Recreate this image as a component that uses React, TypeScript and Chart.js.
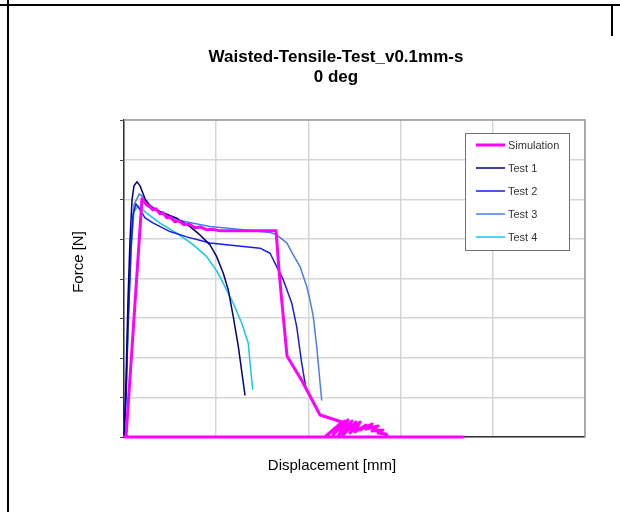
import React, { useEffect, useRef } from "react";
import { Chart, registerables } from "chart.js";

Chart.register(...registerables);

// Displacement [mm] / Force [N] pairs for each curve
const simX = [0, 0.022, 0.195, 0.246, 0.282, 0.315, 0.347, 0.39, 0.423, 0.466, 0.499, 0.553, 0.597, 0.651, 0.705, 0.77, 0.824, 0.9, 0.965, 1.041, 1.649, 1.681, 1.71, 1.768, 1.931, 2.126, 2.364, 2.191, 2.397, 2.267, 2.43, 2.321, 2.473, 2.375, 2.516, 2.451, 2.56, 2.505, 2.625, 2.56, 2.69, 2.625, 2.755, 2.69, 2.809, 2.755, 2.842, 2.863, 3.677, 0];
const simY = [0, 0, 3005, 2929, 2904, 2866, 2879, 2816, 2828, 2765, 2778, 2715, 2728, 2677, 2689, 2639, 2651, 2614, 2620, 2601, 2601, 2109, 1730, 1023, 707, 278, 189, 13, 202, 25, 215, 13, 202, 25, 189, 51, 189, 63, 152, 88, 164, 101, 139, 76, 88, 51, 38, 0, 0, 0];

const test1X = [0, 0.022, 0.043, 0.065, 0.087, 0.108, 0.141, 0.174, 0.228, 0.282, 0.39, 0.572, 0.716, 0.824, 0.933, 1.005, 1.077, 1.131, 1.185, 1.24, 1.312];
const test1Y = [0, 720, 1730, 2487, 2992, 3169, 3220, 3169, 3005, 2908, 2845, 2761, 2655, 2550, 2424, 2276, 2067, 1856, 1519, 1140, 530];

const test2X = [0, 0.022, 0.043, 0.076, 0.098, 0.13, 0.174, 0.228, 0.318, 0.499, 0.68, 0.933, 1.294, 1.475, 1.584, 1.656, 1.728, 1.819, 1.873, 1.927, 1.974];
const test2Y = [0, 467, 1351, 2361, 2803, 2942, 2866, 2765, 2698, 2592, 2525, 2449, 2403, 2383, 2319, 2150, 1982, 1692, 1393, 934, 606];

const test3X = [0, 0.022, 0.043, 0.076, 0.108, 0.166, 0.206, 0.282, 0.39, 0.572, 0.752, 0.933, 1.294, 1.584, 1.656, 1.765, 1.836, 1.909, 1.982, 2.017, 2.053, 2.09, 2.144];
const test3Y = [0, 593, 1477, 2487, 2929, 3068, 3030, 2929, 2828, 2740, 2698, 2655, 2614, 2580, 2550, 2449, 2298, 2150, 1898, 1730, 1519, 1140, 467];

const test4X = [0, 0.022, 0.043, 0.076, 0.108, 0.152, 0.195, 0.246, 0.39, 0.572, 0.752, 0.897, 1.005, 1.095, 1.185, 1.277, 1.348, 1.367, 1.396];
const test4Y = [0, 530, 1351, 2361, 2841, 2917, 2879, 2824, 2698, 2572, 2424, 2276, 2096, 1898, 1688, 1435, 1183, 931, 602];

const seriesNames = ["Simulation", "Test 1", "Test 2", "Test 3", "Test 4"];
const seriesColors = ["#ff00ff", "#000080", "#1a1aee", "#4a7bf7", "#10c8f4"];
const seriesWidths = [3, 1.5, 1.5, 1.5, 1.5];

const titleLines = ["Waisted-Tensile-Test_v0.1mm-s", "0 deg"];
const xTitle = "Displacement [mm]";
const yTitle = "Force [N]";

const xMin = 0, xMax = 5, xStep = 1;
const yMin = 0, yMax = 4000, yStep = 500;

const FONT = "'Liberation Sans', Arial, sans-serif";

function pairs(xs: number[], ys: number[]) {
  return xs.map((x, i) => ({ x, y: ys[i] }));
}

const decorPlugin = {
  id: "decor",
  afterDraw(chart: any) {
    const ctx = chart.ctx as CanvasRenderingContext2D;
    const area = chart.chartArea;
    const yScale = chart.scales.y;
    ctx.save();

    // top and right plot borders
    ctx.strokeStyle = "#9a9a9a";
    ctx.lineWidth = 1.5;
    ctx.beginPath();
    ctx.moveTo(area.left, area.top);
    ctx.lineTo(area.right, area.top);
    ctx.lineTo(area.right, area.bottom);
    ctx.stroke();

    // outward tick marks on the force axis
    ctx.strokeStyle = "#444";
    ctx.lineWidth = 1;
    for (let v = yMin; v <= yMax; v += yStep) {
      const py = Math.round(yScale.getPixelForValue(v)) + 0.5;
      ctx.beginPath();
      ctx.moveTo(area.left - 4, py);
      ctx.lineTo(area.left, py);
      ctx.stroke();
    }

    // chart title
    ctx.fillStyle = "#000";
    ctx.textAlign = "center";
    ctx.textBaseline = "middle";
    ctx.font = `bold 17px ${FONT}`;
    titleLines.forEach((t, i) => ctx.fillText(t, 336, 57 + i * 20));

    // axis titles
    ctx.font = `15px ${FONT}`;
    ctx.fillText(xTitle, 332, 466);
    ctx.save();
    ctx.translate(79, 262);
    ctx.rotate(-Math.PI / 2);
    ctx.fillText(yTitle, 0, 0);
    ctx.restore();

    // legend box
    const lx = 465.5, ly = 133.5, lw = 104, lh = 117;
    ctx.fillStyle = "#fff";
    ctx.fillRect(lx, ly, lw, lh);
    ctx.strokeStyle = "#707070";
    ctx.lineWidth = 1;
    ctx.strokeRect(lx, ly, lw, lh);
    ctx.font = `11px ${FONT}`;
    ctx.textAlign = "left";
    seriesNames.forEach((name, i) => {
      const cy = 145 + i * 23;
      ctx.strokeStyle = seriesColors[i];
      ctx.lineWidth = seriesWidths[i];
      ctx.beginPath();
      ctx.moveTo(476, cy);
      ctx.lineTo(505, cy);
      ctx.stroke();
      ctx.fillStyle = "#333";
      ctx.fillText(name, 508, cy + 0.5);
    });

    // page frame lines
    ctx.fillStyle = "#000";
    ctx.fillRect(0, 4, 620, 2);
    ctx.fillRect(7, 0, 2, 512);
    ctx.fillRect(611, 4, 2, 32);

    ctx.restore();
  },
};

export default function App() {
  const canvasRef = useRef<HTMLCanvasElement | null>(null);

  useEffect(() => {
    const canvas = canvasRef.current;
    if (!canvas) return;
    const xs = [simX, test1X, test2X, test3X, test4X];
    const ys = [simY, test1Y, test2Y, test3Y, test4Y];
    const chart = new Chart(canvas, {
      type: "scatter",
      data: {
        datasets: seriesNames.map((name, i) => ({
          label: name,
          data: pairs(xs[i], ys[i]),
          showLine: true,
          borderColor: seriesColors[i],
          backgroundColor: seriesColors[i],
          borderWidth: seriesWidths[i],
          borderJoinStyle: "round" as const,
          borderCapStyle: "round" as const,
          pointRadius: 0,
          tension: 0,
          clip: false,
        })),
      },
      options: {
        animation: false,
        responsive: false,
        devicePixelRatio: 1,
        layout: { padding: { left: 124, right: 35, top: 120, bottom: 75 } },
        plugins: {
          legend: { display: false },
          title: { display: false },
          tooltip: { enabled: false },
        },
        scales: {
          x: {
            type: "linear",
            min: xMin,
            max: xMax,
            ticks: { display: false, stepSize: xStep },
            grid: { color: "#d6d6d6", lineWidth: 1.5, drawTicks: false },
            border: { color: "#333", width: 1.5 },
          },
          y: {
            type: "linear",
            min: yMin,
            max: yMax,
            ticks: { display: false, stepSize: yStep },
            grid: { color: "#d6d6d6", lineWidth: 1.5, drawTicks: false },
            border: { color: "#333", width: 1.5 },
          },
        },
      },
      plugins: [decorPlugin],
    });
    return () => chart.destroy();
  }, []);

  return (
    <div style={{ position: "fixed", left: 0, top: 0, width: 620, height: 512, background: "#fff" }}>
      <canvas ref={canvasRef} width={620} height={512} />
    </div>
  );
}
